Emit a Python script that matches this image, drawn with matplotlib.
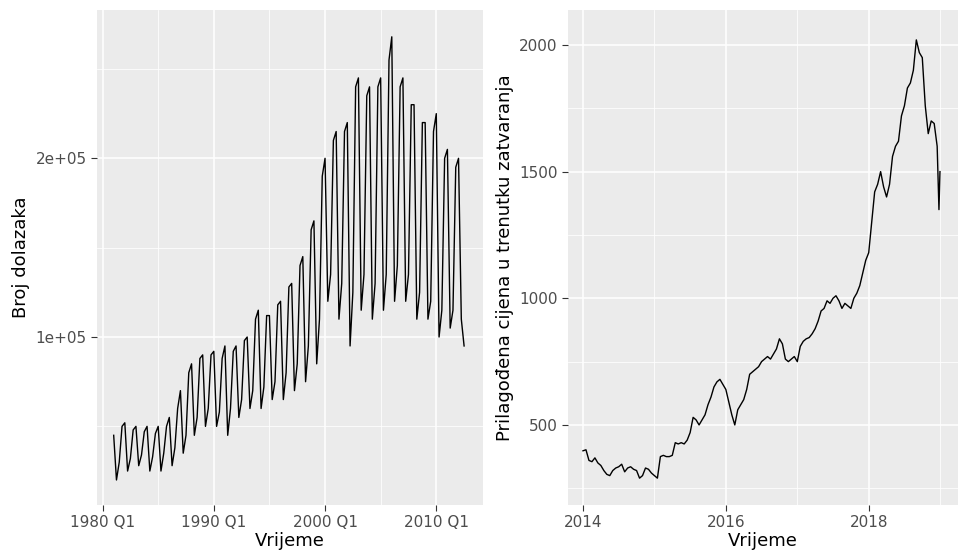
import matplotlib.pyplot as plt
import numpy as np

# quarterly arrivals, 1981 Q1 .. 2012 Q3
arrivals = [
    45000, 20000, 30000, 50000,
    52000, 25000, 32000, 48000,
    50000, 28000, 34000, 47000,
    50000, 25000, 33000, 46000,
    50000, 25000, 35000, 50000,
    55000, 28000, 38000, 60000,
    70000, 35000, 45000, 80000,
    85000, 45000, 55000, 88000,
    90000, 50000, 60000, 90000,
    92000, 50000, 58000, 88000,
    95000, 45000, 60000, 92000,
    95000, 55000, 65000, 98000,
    100000, 60000, 70000, 110000,
    115000, 60000, 72000, 112000,
    112000, 65000, 75000, 118000,
    120000, 65000, 80000, 128000,
    130000, 70000, 85000, 140000,
    145000, 75000, 95000, 160000,
    165000, 85000, 110000, 190000,
    200000, 120000, 135000, 210000,
    215000, 110000, 130000, 215000,
    220000, 95000, 125000, 240000,
    245000, 115000, 135000, 235000,
    240000, 110000, 130000, 240000,
    245000, 115000, 135000, 255000,
    268000, 120000, 140000, 240000,
    245000, 120000, 135000, 230000,
    230000, 110000, 125000, 220000,
    220000, 110000, 120000, 215000,
    225000, 100000, 115000, 200000,
    205000, 105000, 115000, 195000,
    200000, 110000, 95000,
]
start_year = 1981

# adjusted close price, (year, month, day fraction) -> value
price_dates = [
    (2014, 1, 0.0), (2014, 1, 0.5), (2014, 2, 0.0), (2014, 2, 0.5), (2014, 3, 0.0), (2014, 3, 0.5),
    (2014, 4, 0.0), (2014, 4, 0.5), (2014, 5, 0.0), (2014, 5, 0.5), (2014, 6, 0.0), (2014, 6, 0.5),
    (2014, 7, 0.0), (2014, 7, 0.5), (2014, 8, 0.0), (2014, 8, 0.5), (2014, 9, 0.0), (2014, 9, 0.5),
    (2014, 10, 0.0), (2014, 10, 0.5), (2014, 11, 0.0), (2014, 11, 0.5), (2014, 12, 0.0), (2014, 12, 0.5),
    (2015, 1, 0.0), (2015, 1, 0.5), (2015, 2, 0.0), (2015, 2, 0.5), (2015, 3, 0.0), (2015, 3, 0.5),
    (2015, 4, 0.0), (2015, 4, 0.5), (2015, 5, 0.0), (2015, 5, 0.5), (2015, 6, 0.0), (2015, 6, 0.5),
    (2015, 7, 0.0), (2015, 7, 0.5), (2015, 8, 0.0), (2015, 8, 0.5), (2015, 9, 0.0), (2015, 9, 0.5),
    (2015, 10, 0.0), (2015, 10, 0.5), (2015, 11, 0.0), (2015, 11, 0.5), (2015, 12, 0.0), (2015, 12, 0.5),
    (2016, 1, 0.0), (2016, 1, 0.5), (2016, 2, 0.0), (2016, 2, 0.5), (2016, 3, 0.0), (2016, 3, 0.5),
    (2016, 4, 0.0), (2016, 4, 0.5), (2016, 5, 0.0), (2016, 5, 0.5), (2016, 6, 0.0), (2016, 6, 0.5),
    (2016, 7, 0.0), (2016, 7, 0.5), (2016, 8, 0.0), (2016, 8, 0.5), (2016, 9, 0.0), (2016, 9, 0.5),
    (2016, 10, 0.0), (2016, 10, 0.5), (2016, 11, 0.0), (2016, 11, 0.5), (2016, 12, 0.0), (2016, 12, 0.5),
    (2017, 1, 0.0), (2017, 1, 0.5), (2017, 2, 0.0), (2017, 2, 0.5), (2017, 3, 0.0), (2017, 3, 0.5),
    (2017, 4, 0.0), (2017, 4, 0.5), (2017, 5, 0.0), (2017, 5, 0.5), (2017, 6, 0.0), (2017, 6, 0.5),
    (2017, 7, 0.0), (2017, 7, 0.5), (2017, 8, 0.0), (2017, 8, 0.5), (2017, 9, 0.0), (2017, 9, 0.5),
    (2017, 10, 0.0), (2017, 10, 0.5), (2017, 11, 0.0), (2017, 11, 0.5), (2017, 12, 0.0), (2017, 12, 0.5),
    (2018, 1, 0.0), (2018, 1, 0.5), (2018, 2, 0.0), (2018, 2, 0.5), (2018, 3, 0.0), (2018, 3, 0.5),
    (2018, 4, 0.0), (2018, 4, 0.5), (2018, 5, 0.0), (2018, 5, 0.5), (2018, 6, 0.0), (2018, 6, 0.5),
    (2018, 7, 0.0), (2018, 7, 0.5), (2018, 8, 0.0), (2018, 8, 0.5), (2018, 9, 0.0), (2018, 9, 0.5),
    (2018, 10, 0.0), (2018, 10, 0.5), (2018, 11, 0.0), (2018, 11, 0.5), (2018, 12, 0.0), (2018, 12, 0.5),
    (2018, 12, 0.8), (2018, 12, 0.97),
]
price = [
    398, 402, 360, 355, 370, 350, 340, 320, 305, 300, 320, 330,
    335, 345, 315, 330, 335, 325, 320, 290, 300, 330, 325, 310,
    300, 290, 375, 380, 375, 375, 380, 430, 425, 430, 425, 440,
    470, 530, 520, 500, 520, 540, 580, 610, 650, 670, 680, 660,
    640, 590, 540, 500, 560, 580, 600, 640, 700, 710, 720, 730,
    750, 760, 770, 760, 780, 800, 840, 820, 760, 750, 760, 770,
    750, 810, 830, 840, 845, 860, 880, 910, 950, 960, 990, 980,
    1000, 1010, 990, 960, 980, 970, 960, 1000, 1020, 1050, 1100, 1150,
    1180, 1300, 1420, 1450, 1500, 1440, 1400, 1450, 1560, 1600, 1620, 1720,
    1760, 1830, 1850, 1900, 2020, 1970, 1950, 1760, 1650, 1700, 1690, 1600,
    1350, 1500,
]

BG = "#EBEBEB"
GREY = "#4D4D4D"


def gg_axes(ax):
    ax.set_facecolor(BG)
    for s in ax.spines.values():
        s.set_visible(False)
    ax.grid(True, which="major", color="white", linewidth=1.1)
    ax.grid(True, which="minor", color="white", linewidth=0.55)
    ax.set_axisbelow(True)
    ax.tick_params(which="major", colors="#333333", labelcolor=GREY, labelsize=11, length=4)
    ax.tick_params(which="minor", length=0)


fig = plt.figure(figsize=(9.59, 5.51), dpi=100)
ax1 = fig.add_axes([97 / 959, 46 / 551, 386 / 959, 495 / 551])
ax2 = fig.add_axes([568 / 959, 46 / 551, 390 / 959, 495 / 551])

t1 = start_year + np.arange(len(arrivals)) / 4
ax1.plot(t1, arrivals, color="black", linewidth=1.0)
gg_axes(ax1)
ax1.set_xlim(1979.5, 2014.2)
ax1.set_ylim(6000, 283000)
ax1.set_xticks([1980, 1990, 2000, 2010])
ax1.set_xticklabels(["1980 Q1", "1990 Q1", "2000 Q1", "2010 Q1"])
ax1.set_xticks([1985, 1995, 2005], minor=True)
ax1.set_yticks([100000, 200000])
ax1.set_yticklabels(["1e+05", "2e+05"])
ax1.set_yticks([50000, 150000, 250000], minor=True)
ax1.set_xlabel("Vrijeme", fontsize=13, labelpad=1)
ax1.set_ylabel("Broj dolazaka", fontsize=13)

t2 = [y + (m - 1) / 12 + f / 12 for y, m, f in price_dates]
ax2.plot(t2, price, color="black", linewidth=1.0)
gg_axes(ax2)
ax2.set_xlim(2013.79, 2019.25)
ax2.set_ylim(184, 2138)
ax2.set_xticks([2014, 2016, 2018])
ax2.set_xticks([2015, 2017, 2019], minor=True)
ax2.set_yticks([500, 1000, 1500, 2000])
ax2.set_yticks([250, 750, 1250, 1750], minor=True)
ax2.set_xlabel("Vrijeme", fontsize=13, labelpad=1)
ax2.set_ylabel("Prilagođena cijena u trenutku zatvaranja", fontsize=13)

fig.savefig("out.png", dpi=100)
